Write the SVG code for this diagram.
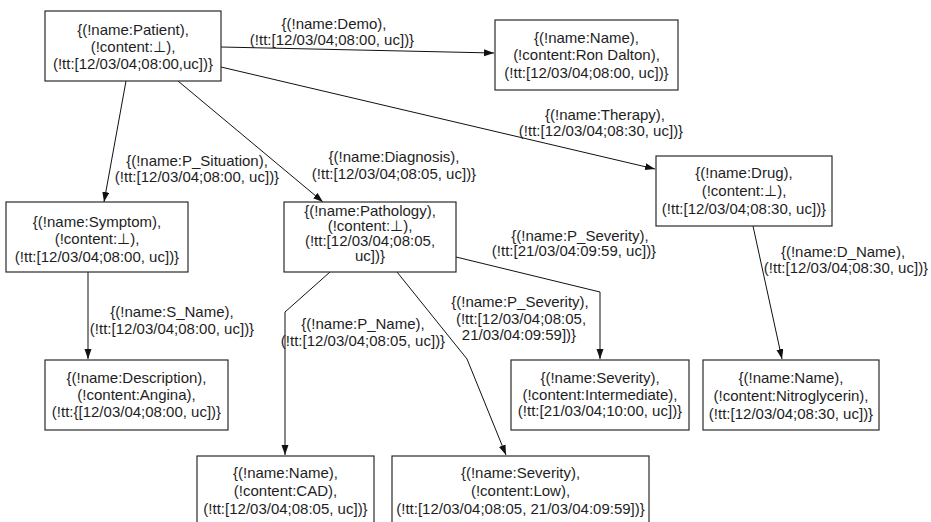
<svg xmlns="http://www.w3.org/2000/svg" width="931" height="522" viewBox="0 0 931 522">
  <style>
    text { font-family: "Liberation Sans", Arial, Helvetica, sans-serif; font-size: 15px; fill: #1e1e1e; text-anchor: middle; }
    .box { fill: #ffffff; stroke: #2a2a2a; stroke-width: 1.2; }
    .edge { fill: none; stroke: #111111; stroke-width: 1; marker-end: url(#arrow); }
  </style>
  <defs>
    <marker id="arrow" markerUnits="userSpaceOnUse" markerWidth="11" markerHeight="8" refX="10" refY="3.5" orient="auto">
      <path d="M0,0 L10,3.5 L0,7 z" fill="#111111"/>
    </marker>
  </defs>
  <rect width="931" height="522" fill="#ffffff"/>

  <!-- connectors with their labels -->
  <g id="connectors">
    <g id="e-demo">
      <path class="edge" d="M221,47 L494,53"/>
      <text x="334" y="29">{(!name:Demo),</text>
      <text x="332" y="45">(!tt:[12/03/04;08:00, uc])}</text>
    </g>
    <g id="e-therapy">
      <path class="edge" d="M221,67 L655,169"/>
      <text x="605" y="120">{(!name:Therapy),</text>
      <text x="601" y="136">(!tt:[12/03/04;08:30, uc])}</text>
    </g>
    <g id="e-psituation">
      <path class="edge" d="M126,81 L104,202"/>
      <text x="197" y="166">{(!name:P_Situation),</text>
      <text x="197" y="182">(!tt:[12/03/04;08:00, uc])}</text>
    </g>
    <g id="e-diagnosis">
      <path class="edge" d="M178,81 L323,202"/>
      <text x="394" y="162">{(!name:Diagnosis),</text>
      <text x="394" y="179">(!tt:[12/03/04;08:05, uc])}</text>
    </g>
    <g id="e-sname">
      <path class="edge" d="M88,272 L88,359"/>
      <text x="172" y="317">{(!name:S_Name),</text>
      <text x="172" y="334">(!tt:[12/03/04;08:00, uc])}</text>
    </g>
    <g id="e-pname">
      <path class="edge" d="M330,272 L285,312 L285,455"/>
      <text x="363" y="329">{(!name:P_Name),</text>
      <text x="363" y="346">(!tt:[12/03/04;08:05, uc])}</text>
    </g>
    <g id="e-pseverity-low">
      <path class="edge" d="M397,272 L467,359 L506,455"/>
      <text x="520" y="307">{(!name:P_Severity),</text>
      <text x="521" y="324">(!tt:[12/03/04;08:05,</text>
      <text x="519" y="340">21/03/04:09:59])}</text>
    </g>
    <g id="e-pseverity-intermediate">
      <path class="edge" d="M456,257 L600,292 L600,359"/>
      <text x="580" y="241">{(!name:P_Severity),</text>
      <text x="574" y="256">(!tt:[21/03/04:09:59, uc])}</text>
    </g>
    <g id="e-dname">
      <path class="edge" d="M753,226 L782,359"/>
      <text x="843" y="257">{(!name:D_Name),</text>
      <text x="846" y="273">(!tt:[12/03/04;08:30, uc])}</text>
    </g>
  </g>

  <!-- nodes -->
  <g id="n-patient">
    <rect class="box" x="45" y="11" width="176" height="70"/>
    <text x="133" y="35">{(!name:Patient),</text>
    <text x="133" y="52">(!content:⊥),</text>
    <text x="133" y="69">(!tt:[12/03/04;08:00,uc])}</text>
  </g>
  <g id="n-name-ron">
    <rect class="box" x="495" y="20" width="183" height="70"/>
    <text x="586.5" y="43">{(!name:Name),</text>
    <text x="586.5" y="60">(!content:Ron Dalton),</text>
    <text x="586.5" y="78">(!tt:[12/03/04;08:00, uc])}</text>
  </g>
  <g id="n-drug">
    <rect class="box" x="656" y="156" width="176" height="70"/>
    <text x="744" y="178">{(!name:Drug),</text>
    <text x="744" y="196">(!content:⊥),</text>
    <text x="744" y="214">(!tt:[12/03/04;08:30, uc])}</text>
  </g>
  <g id="n-symptom">
    <rect class="box" x="6" y="202" width="182" height="70"/>
    <text x="97" y="227">{(!name:Symptom),</text>
    <text x="97" y="244">(!content:⊥),</text>
    <text x="97" y="262">(!tt:[12/03/04;08:00, uc])}</text>
  </g>
  <g id="n-pathology">
    <rect class="box" x="284" y="202" width="172" height="70"/>
    <text x="370" y="216">{(!name:Pathology),</text>
    <text x="370" y="231">(!content:⊥),</text>
    <text x="370" y="246">(!tt:[12/03/04;08:05,</text>
    <text x="370" y="261">uc])}</text>
  </g>
  <g id="n-description">
    <rect class="box" x="45" y="360" width="183" height="70"/>
    <text x="136.5" y="383">{(!name:Description),</text>
    <text x="136.5" y="400">(!content:Angina),</text>
    <text x="136.5" y="417">(!tt:{[12/03/04;08:00, uc])}</text>
  </g>
  <g id="n-intermediate">
    <rect class="box" x="511" y="360" width="178" height="70"/>
    <text x="600" y="383">{(!name:Severity),</text>
    <text x="600" y="400">(!content:Intermediate),</text>
    <text x="600" y="416">(!tt:[21/03/04;10:00, uc])}</text>
  </g>
  <g id="n-nitroglycerin">
    <rect class="box" x="703" y="360" width="176" height="70"/>
    <text x="791" y="383">{(!name:Name),</text>
    <text x="791" y="401">(!content:Nitroglycerin),</text>
    <text x="791" y="419">(!tt:[12/03/04;08:30, uc])}</text>
  </g>
  <g id="n-cad">
    <rect class="box" x="197" y="456" width="177" height="80"/>
    <text x="285.5" y="478">{(!name:Name),</text>
    <text x="285.5" y="496">(!content:CAD),</text>
    <text x="285.5" y="514">(!tt:[12/03/04;08:05, uc])}</text>
  </g>
  <g id="n-low">
    <rect class="box" x="392" y="456" width="257" height="80"/>
    <text x="520.5" y="478">{(!name:Severity),</text>
    <text x="520.5" y="496">(!content:Low),</text>
    <text x="520.5" y="514">(!tt:[12/03/04;08:05, 21/03/04:09:59])}</text>
  </g>
</svg>
